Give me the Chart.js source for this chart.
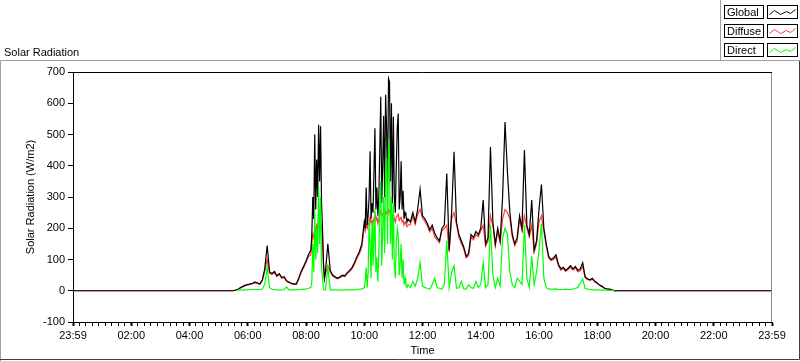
<!DOCTYPE html>
<html>
<head>
<meta charset="utf-8">
<script src="https://cdn.jsdelivr.net/npm/chart.js@4"></script>
<style>
  html, body { margin: 0; padding: 0; background: #fff; }
  #wrap { width: 800px; height: 361px; }
</style>
</head>
<body>
<div id="wrap"><canvas id="solarChart" width="800" height="361"></canvas></div>
<script>
const seriesNames = ["Global", "Diffuse", "Direct"];
const seriesColors = ["#000000", "#ff3c3c", "#00ff00"];
const xTickLabels = ["23:59", "02:00", "04:00", "06:00", "08:00", "10:00", "12:00",
    "14:00", "16:00", "18:00", "20:00", "22:00", "23:59"];

// sample times: 5 min, 2 min where the sky was broken
const sampleTimes = [
    "00:00",
    "05:30", "05:35", "05:40", "05:45", "05:50", "05:55",
    "06:00", "06:05", "06:10", "06:15", "06:20", "06:25", "06:30", "06:35", "06:40", "06:45", "06:50", "06:55",
    "07:00", "07:05", "07:10", "07:15", "07:20", "07:25", "07:30", "07:35", "07:40", "07:45", "07:50", "07:55",
    "08:00", "08:05",
    "08:10", "08:12", "08:14", "08:16", "08:18", "08:20", "08:22", "08:24", "08:26", "08:28", "08:30", "08:32",
    "08:34", "08:36", "08:38", "08:40",
    "08:45", "08:50", "08:55",
    "09:00", "09:05", "09:10", "09:15", "09:20", "09:25", "09:30", "09:35", "09:40", "09:45", "09:50", "09:55",
    "10:00", "10:02", "10:04", "10:06", "10:08", "10:10", "10:12", "10:14", "10:16", "10:18",
    "10:20", "10:22", "10:24", "10:26", "10:28", "10:30", "10:32", "10:34", "10:36", "10:38",
    "10:40", "10:42", "10:44", "10:46", "10:48", "10:50", "10:52", "10:54", "10:56", "10:58",
    "11:00", "11:02", "11:04", "11:06", "11:08", "11:10", "11:12", "11:14", "11:16", "11:18",
    "11:20", "11:22", "11:24", "11:26", "11:28", "11:30",
    "11:35", "11:40", "11:45", "11:50", "11:55",
    "12:00", "12:05", "12:10", "12:15", "12:20", "12:25", "12:30", "12:35", "12:40", "12:45", "12:50", "12:55",
    "13:00", "13:05", "13:10", "13:15", "13:20", "13:25", "13:30", "13:35", "13:40", "13:45", "13:50", "13:55",
    "14:00", "14:05", "14:10", "14:15", "14:20", "14:25", "14:30", "14:35", "14:40", "14:45", "14:50", "14:55",
    "15:00", "15:05", "15:10", "15:15", "15:20", "15:25", "15:30", "15:35", "15:40", "15:45", "15:50", "15:55",
    "16:00", "16:05", "16:10", "16:15", "16:20", "16:25", "16:30", "16:35", "16:40", "16:45", "16:50", "16:55",
    "17:00", "17:05", "17:10", "17:15", "17:20", "17:25", "17:30", "17:35", "17:40", "17:45", "17:50", "17:55",
    "18:00", "18:05", "18:10", "18:15", "18:20", "18:25", "18:30", "18:35",
    "23:59"
];

const globalValues = [
    0,
    0, 2, 5, 10, 14, 18, 20, 22, 24, 28,
    25, 22, 35, 70, 145, 60, 55, 62, 48, 55,
    42, 45, 32, 28, 24, 22, 22, 40, 62, 78,
    95, 115,
    130, 181, 300, 230, 500, 260, 420, 300, 531, 350, 526, 280, 200, 90, 40, 60,
    150, 65, 50, 45, 40, 45, 50, 48, 58, 65, 75, 90, 110, 125, 150,
    220, 200, 330, 210, 240, 300, 446, 230, 280, 250,
    380, 520, 260, 330, 240, 300, 450, 621, 280, 400,
    560, 300, 627, 520, 330, 679, 669, 350, 600, 280,
    557, 300, 250, 400, 520, 567, 260, 300, 414, 260,
    320, 230, 250, 240, 220, 230,
    220, 250, 220, 260, 325, 240, 230,
    215, 195, 210, 185, 170, 160, 200, 210, 375, 130,
    250, 445, 220, 180, 160, 140, 110, 120, 180, 170,
    190, 180, 200, 290, 150, 170, 460, 220, 150, 200,
    160, 300, 540, 380, 250, 180, 150, 170, 240, 200,
    450, 210, 180, 290, 130, 160, 260, 340, 200, 150,
    110, 100, 105, 115, 85, 70, 75, 65, 72, 80,
    70, 78, 65, 70, 90, 45, 38, 35, 40, 30,
    25, 18, 14, 8, 6, 5, 3, 0,
    0
];

const diffuseValues = [
    0,
    0, 2, 5, 9, 13, 16, 18, 20, 22, 25,
    23, 20, 32, 62, 100, 56, 52, 58, 45, 52,
    40, 42, 30, 26, 22, 20, 20, 37, 58, 74,
    90, 110,
    115, 150, 180, 170, 200, 190, 210, 200, 230, 210, 220, 200, 170, 80, 38, 55,
    80, 60, 47, 42, 38, 42, 47, 45, 55, 61, 71, 86, 104, 118, 140,
    205, 192, 215, 200, 210, 220, 235, 215, 225, 220,
    230, 245, 225, 235, 215, 230, 245, 255, 240, 245,
    250, 235, 255, 250, 240, 260, 255, 240, 250, 230,
    245, 230, 220, 235, 240, 245, 225, 230, 235, 220,
    225, 210, 220, 215, 205, 210,
    212, 238, 212, 245, 260, 232, 222,
    207, 188, 200, 172, 163, 154, 193, 200, 210, 124,
    230, 250, 212, 172, 150, 134, 106, 112, 172, 163,
    180, 173, 190, 210, 143, 160, 240, 208, 143, 188,
    153, 230, 260, 250, 230, 172, 144, 160, 228, 192,
    240, 200, 172, 210, 124, 150, 220, 240, 190, 142,
    105, 96, 100, 108, 80, 66, 71, 62, 68, 75,
    66, 73, 61, 64, 78, 42, 36, 33, 37, 28,
    23, 17, 13, 8, 6, 5, 3, 0,
    0
];

const directValues = [
    null,
    null, 0, 2, 2, 3, 3, 3, 4, 4, 4,
    4, 4, 5, 20, 74, 10, 4, 4, 3, 3,
    3, 4, 12, 3, 3, 3, 3, 4, 4, 5,
    5, 8,
    10, 30, 150, 60, 250, 100, 200, 120, 335, 150, 300, 80, 40, 5, 3, 3,
    75, 3, 3, 3, 3, 2, 2, 3, 3, 3, 3, 3, 4, 5, 5,
    10, 30, 74, 10, 60, 223, 150, 40, 220, 80,
    150, 260, 60, 106, 30, 120, 276, 350, 80, 200,
    300, 120, 380, 424, 150, 488, 420, 150, 300, 100,
    280, 80, 40, 150, 200, 180, 50, 90, 150, 40,
    100, 20, 40, 15, 10, 20,
    10, 30, 15, 40, 90, 15, 10,
    8, 5, 20, 40, 10, 8, 5, 20, 160, 10,
    60, 80, 8, 10, 30, 6, 5, 20, 10, 8,
    30, 10, 20, 90, 10, 20, 210, 50, 10, 40,
    15, 170, 200, 180, 60, 20, 10, 40, 30, 20,
    210, 40, 10, 110, 20, 60, 130, 215, 40, 10,
    5, 5, 5, 6, 4, 4, 4, 5, 4, 4,
    5, 8, 10, 25, 37, 8, 5, 4, 3, 3,
    3, 2, 2, 2, 2, 1, 1, 0,
    null
];

const FONT_FAMILY = '"Liberation Sans", Arial, sans-serif';
Chart.defaults.font.family = FONT_FAMILY;
Chart.defaults.font.size = 11;
Chart.defaults.color = "#000";

function toMinutes(t) {
    const [h, m] = t.split(":").map(Number);
    return h * 60 + m;
}

function points(values) {
    return sampleTimes.map((t, i) => ({ x: toMinutes(t), y: values[i] }));
}

// frame, title, legend and the plot border
const panelPlugin = {
    id: "panel",
    beforeDraw(chart) {
        const ctx = chart.ctx;
        ctx.save();
        ctx.fillStyle = "#fff";
        ctx.fillRect(0, 0, chart.width, chart.height);
        ctx.lineWidth = 1;
        ctx.strokeStyle = "#a0a0a0";
        ctx.beginPath();
        ctx.moveTo(0.5, 361);
        ctx.lineTo(0.5, 60.5);
        ctx.lineTo(800, 60.5);
        ctx.moveTo(720.5, 0);
        ctx.lineTo(720.5, 60.5);
        ctx.stroke();
        ctx.strokeStyle = "#404040";
        ctx.beginPath();
        ctx.moveTo(0, 359.5);
        ctx.lineTo(799.5, 359.5);
        ctx.lineTo(799.5, 61);
        ctx.stroke();

        ctx.fillStyle = "#000";
        ctx.font = "11px " + FONT_FAMILY;
        ctx.textBaseline = "alphabetic";
        ctx.fillText("Solar Radiation", 4, 56);

        const rows = [5, 24, 43];
        const zig = [[2, 9], [7, 5], [13, 9], [19, 6], [23, 8], [28, 4]];
        chart.data.datasets.forEach((ds, i) => {
            const y = rows[i];
            ctx.strokeStyle = "#000";
            ctx.strokeRect(724.5, y + 0.5, 39, 13);
            ctx.strokeRect(767.5, y + 0.5, 30, 13);
            ctx.fillText(ds.label, 727, y + 11);
            ctx.strokeStyle = ds.borderColor;
            ctx.beginPath();
            zig.forEach(([dx, dy], k) => {
                if (k === 0) ctx.moveTo(767.5 + dx, y + dy + 0.5);
                else ctx.lineTo(767.5 + dx, y + dy + 0.5);
            });
            ctx.stroke();
        });
        ctx.restore();
    },
    afterDatasetsDraw(chart) {
        const { ctx, chartArea } = chart;
        ctx.save();
        ctx.lineWidth = 1;
        ctx.strokeStyle = "#000";
        ctx.beginPath();
        ctx.moveTo(chartArea.left, chartArea.top + 0.5);
        ctx.lineTo(chartArea.right, chartArea.top + 0.5);
        ctx.stroke();
        ctx.strokeStyle = "#8c8c8c";
        ctx.beginPath();
        ctx.moveTo(chartArea.right - 0.5, chartArea.top + 1);
        ctx.lineTo(chartArea.right - 0.5, chartArea.bottom);
        ctx.stroke();
        ctx.restore();
    }
};

const lineStyle = { borderWidth: 1.2, pointRadius: 0, tension: 0, spanGaps: false, fill: false };

new Chart(document.getElementById("solarChart").getContext("2d"), {
    type: "line",
    data: {
        datasets: [
            { label: seriesNames[0], data: points(globalValues), borderColor: seriesColors[0], order: 1, ...lineStyle },
            { label: seriesNames[1], data: points(diffuseValues), borderColor: seriesColors[1], order: 2, ...lineStyle },
            { label: seriesNames[2], data: points(directValues), borderColor: seriesColors[2], order: 0, ...lineStyle },
        ],
    },
    options: {
        responsive: false,
        animation: false,
        devicePixelRatio: 1,
        layout: { padding: { top: 72, right: 28, bottom: 0, left: 0 } },
        plugins: { legend: { display: false }, tooltip: { enabled: false } },
        scales: {
            x: {
                type: "linear",
                min: 0,
                max: 1440,
                afterBuildTicks: (scale) => {
                    const ticks = [];
                    for (let k = 0; k <= 108; k++) ticks.push({ value: (k * 1440) / 108 });
                    scale.ticks = ticks;
                },
                afterFit: (scale) => { scale.height = 39; },
                ticks: {
                    autoSkip: false,
                    maxRotation: 0,
                    padding: 3,
                    color: "#000",
                    callback: (v, i) => (i % 9 === 0 ? xTickLabels[i / 9] : ""),
                },
                grid: {
                    drawOnChartArea: false,
                    tickLength: 4,
                    tickColor: "#000",
                    tickWidth: (c) => (c.index % 9 === 0 ? 2 : 1),
                },
                border: { color: "#000", width: 1 },
                title: { display: true, text: "Time", color: "#000", padding: { top: 0, bottom: 3 } },
            },
            y: {
                min: -100,
                max: 700,
                afterFit: (scale) => { scale.width = 73; },
                ticks: { stepSize: 100, padding: 3, color: "#000" },
                grid: { drawOnChartArea: false, tickLength: 5, tickColor: "#000" },
                border: { color: "#000", width: 1 },
                title: { display: true, text: "Solar Radiation (W/m2)", color: "#000", padding: { top: 24, bottom: 0 } },
            },
        },
    },
    plugins: [panelPlugin],
});
</script>
</body>
</html>
